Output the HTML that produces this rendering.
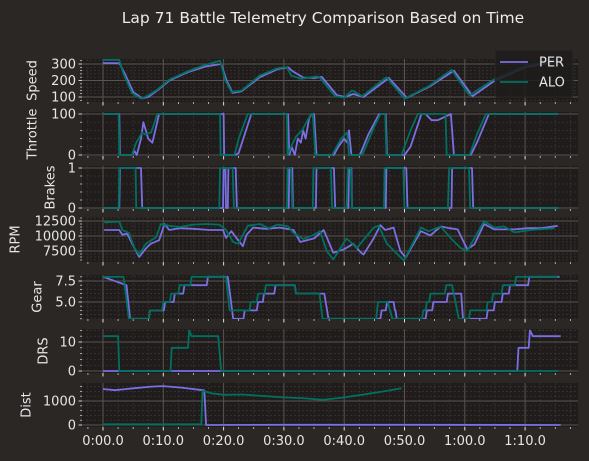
<!DOCTYPE html>
<html><head><meta charset="utf-8"><style>
html,body{margin:0;padding:0;background:#2a2725;}
svg{display:block;font-family:"DejaVu Sans","Liberation Sans",sans-serif;}
</style></head><body>
<svg id="chart" width="589" height="461" viewBox="0 0 589 461"></svg>
<script>
const xTickValues=[0,10,20,30,40,50,60,70];
const xTickLabels=["0:00.0","0:10.0","0:20.0","0:30.0","0:40.0","0:50.0","1:00.0","1:10.0"];
const drivers=["PER","ALO"];
const speedPerT=[0,2.7,3.5,5,6.5,7.5,9,11,14,17,19.6,20.5,21.5,23,26,29,30.7,31.5,33.2,35,36.3,38.8,40.2,41.5,43.2,47.4,50.4,54,58.2,61.3,65,70,76];
const speedPerV=[305,305,250,130,92,100,140,200,250,285,300,200,125,135,220,270,280,255,218,215,222,110,100,118,100,215,95,160,260,105,200,280,320];
const speedAloT=[0,2.7,3.3,4.8,6.3,7.5,9,11,14,17,19.4,20.3,21.3,23,26,29,30.5,31.2,32.8,35.5,36,38.5,40,41.3,43,47,50,54,57.8,60.8,65,70,75];
const speedAloV=[325,325,250,125,90,110,145,205,255,295,320,200,130,140,230,275,282,230,210,225,215,105,95,140,105,220,90,165,265,110,210,290,330];
const thrPerT=[0,2.7,2.8,4.8,5.2,5.6,6.3,6.7,7.5,8.2,9.3,9.6,20,20.1,22,22.5,24.6,30.7,30.9,31.3,31.8,32.3,32.8,33.2,33.6,34.2,34.6,35,35.4,35.6,38.3,39,40,40.5,40.8,41.2,41.6,42.6,44,45.8,46.9,47.1,50,51,52.8,53.5,54.5,55.5,57.7,58.2,61,62,64,75.5];
const thrPerV=[100,100,0,0,10,0,40,80,40,30,100,100,100,0,0,5,100,100,0,20,0,40,30,60,40,90,100,100,0,0,0,20,40,30,60,0,0,0,50,100,100,0,0,20,100,100,85,85,100,0,0,30,100,100];
const thrAloT=[0,2.6,2.7,4.8,5.5,6.5,7,8,9,9.4,19.4,19.5,21.8,22.5,24,30.5,30.6,31.5,32,33,34.5,34.8,35.2,38,39.5,40.5,40.8,41.2,43,45,46,46.8,47,49.5,51,52.2,56.8,57,60.8,62,63.5,75.5];
const thrAloV=[100,100,0,0,30,55,50,55,100,100,100,0,0,40,100,100,0,30,45,60,100,100,0,0,40,55,0,0,0,70,100,100,0,0,60,100,100,0,0,50,100,100];
const brkPerT=[0,2.7,2.8,6.3,6.5,19.9,20,20.3,20.4,20.7,20.8,22,22.2,30.8,30.9,31.4,31.5,35.3,35.4,38.3,38.5,40.7,40.8,41.2,41.3,46.9,47,50.3,50.5,57.8,57.9,61.2,61.4,75.5];
const brkPerV=[0,0,1,1,0,0,1,1,0,0,1,1,0,0,1,1,0,0,1,1,0,0,1,1,0,0,1,1,0,0,1,1,0,0];
const brkAloT=[0,2.6,2.7,5.4,5.5,19.3,19.4,21.5,21.7,30.5,30.6,31.2,31.4,34.8,34.9,37.8,38,40.4,40.6,41.1,41.3,46.6,46.7,49.8,50,57.2,57.4,60.7,60.9,75.5];
const brkAloV=[0,0,1,1,0,0,1,1,0,0,1,1,0,0,1,1,0,0,1,1,0,0,1,1,0,0,1,1,0,0];
const rpmPerT=[0.2,2.7,3.2,4,5.2,6,7.1,7.9,9.3,10.2,11,12.7,15,17.7,19.9,20.4,21.3,22.1,23.2,23.8,24.9,27,29.3,31.6,32.7,35,36.6,38.2,40,41.5,42.7,43.2,44.9,46,46.8,48.2,49.3,50.2,52.7,54.3,56,57.5,58.8,60.4,61.6,63.2,64.9,68.2,70.5,72.7,75.4];
const rpmPerV=[11000,11000,10200,10400,8000,6500,7900,8700,9300,12000,11000,11300,11200,11000,11000,9700,10800,9700,8300,10200,11400,11200,11400,11000,9000,9600,11000,7200,7800,8700,7300,6900,9600,11800,11000,11400,7500,6400,10800,10100,11600,11300,11100,7800,8600,12000,11100,11100,11300,11300,11700];
const rpmAloT=[0.2,2.7,3.2,4.3,5.2,6,7.1,8.8,9.6,11,12.7,15,17.1,19.3,20.4,21.6,22.4,24,26,27.5,29,30.7,31.6,33.2,35,36,37.1,38.2,40.4,42.1,44.9,45.7,47.1,49.9,52.7,54,56,57.7,59.3,60.4,63.2,64.9,66.5,68.2,71,74.9];
const rpmAloV=[12280,12400,11000,10500,8000,6900,8700,9800,12000,11700,11500,11900,12000,11900,11000,9000,8700,11700,12000,11300,11900,11600,10500,9500,10200,10800,7500,6100,9600,8000,11400,11700,8700,5900,11400,10800,11600,9600,8000,7500,12500,11400,11600,10600,11000,11300];
const gearPerT=[0,3.9,4.5,7.6,7.8,10.1,10.3,11.7,11.9,13.3,13.5,17.2,17.4,20.7,21.6,23.3,23.5,25.5,25.7,26.5,26.7,28.4,28.6,31.8,32,36.7,37.4,46,46.2,46.9,47.1,48.2,48.4,48.5,48.7,53.5,53.7,54.6,54.8,57,57.2,59.4,59.7,63.6,63.8,64.8,65,66.1,66.3,67.3,67.5,70.5,70.7,75.7];
const gearPerV=[8,7,3,3,4,4,5,5,6,6,7,7,8,8,3,3,4,4,5,5,6,6,7,7,6,6,3,3,4,4,5,5,4,4,3,3,4,4,5,5,6,6,3,3,4,4,5,5,6,6,7,7,8,8];
const gearAloT=[0,3.4,4.3,7.6,7.8,9.8,10,11.1,11.3,12.5,12.7,14.5,14.7,20.4,21,24.3,24.5,25.5,25.7,26.8,27,31.8,32,35.9,36.4,45.3,45.6,47.2,48,52.9,53.1,53.5,53.7,54.1,54.3,56.7,56.9,57.9,59,60.7,60.9,63.6,63.8,64.5,64.7,66.1,66.3,68.3,68.5,75.4];
const gearAloV=[8,8,3,3,4,4,5,5,6,6,7,7,8,8,4,4,5,5,6,6,7,7,6,6,3,3,5,5,3,3,4,4,5,5,6,6,7,7,3,3,4,4,5,5,6,6,7,7,8,8];
const drsPerT=[0,68.7,68.9,70.6,70.8,71.3,75.9];
const drsPerV=[0,0,8,8,14,12,12];
const drsAloT=[0,2.5,2.7,11.2,11.4,14.1,14.3,14.7,19.1,19.6,75.4];
const drsAloV=[12,12,0,0,8,8,14,12,12,0,0];
const distPerT=[0,2,5,8,10,13,16.5,16.8,17.1,30,50,75.9];
const distPerV=[1500,1450,1530,1600,1620,1560,1450,1440,0,10,10,0];
const distAloT=[0,16.3,16.5,18,20,23,27,30,33,36.5,40,44,47,49.5];
const distAloV=[30,30,1420,1320,1260,1270,1200,1150,1120,1050,1150,1300,1420,1530];

const NS="http://www.w3.org/2000/svg";
const svg=document.getElementById('chart');
const AX_L=82, AX_R=578, X0=103, XS=6.03;
const COL={PER:"#7b6fe6",ALO:"#00705f"};
function xOf(t){return X0+t*XS;}
function mk(tag,attrs,parent){const e=document.createElementNS(NS,tag);for(const k in attrs)e.setAttribute(k,attrs[k]);(parent||svg).appendChild(e);return e;}

const panels=[
 {name:"speed",label:"Speed",lx:33,top:59,h:43,v1:100,y1:97,v2:300,y2:64,ticks:[100,200,300],tl:["100","200","300"],minor:20,series:[[speedPerT,speedPerV],[speedAloT,speedAloV]]},
 {name:"throttle",label:"Throttle",lx:33,top:112,h:44,v1:0,y1:155,v2:100,y2:114,ticks:[0,100],tl:["0","100"],minor:20,series:[[thrPerT,thrPerV],[thrAloT,thrAloV]]},
 {name:"brakes",label:"Brakes",lx:51,top:166,h:43,v1:0,y1:208,v2:1,y2:168,ticks:[0,1],tl:["0","1"],minor:0.2,series:[[brkPerT,brkPerV],[brkAloT,brkAloV]]},
 {name:"rpm",label:"RPM",lx:16,top:217,h:45,v1:7500,y1:251,v2:12500,y2:221,ticks:[7500,10000,12500],tl:["7500","10000","12500"],minor:500,series:[[rpmPerT,rpmPerV],[rpmAloT,rpmAloV]]},
 {name:"gear",label:"Gear",lx:38,top:275,h:44,v1:5,y1:302,v2:7.5,y2:281,ticks:[5,7.5],tl:["5.0","7.5"],minor:0.5,series:[[gearPerT,gearPerV],[gearAloT,gearAloV]]},
 {name:"drs",label:"DRS",lx:44,top:329,h:44,v1:0,y1:371,v2:10,y2:342,ticks:[0,10],tl:["0","10"],minor:2,series:[[drsPerT,drsPerV],[drsAloT,drsAloV]]},
 {name:"dist",label:"Dist",lx:27,top:383,h:44,v1:0,y1:425,v2:1000,y2:401,ticks:[0,1000],tl:["0","1000"],minor:200,series:[[distPerT,distPerV],[distAloT,distAloV]]}
];

const title=mk('text',{x:323,y:23,'text-anchor':'middle','font-size':'15.5',fill:'#ececec'});
title.textContent="Lap 71 Battle Telemetry Comparison Based on Time";



panels.forEach((p,pi)=>{
  const g=mk('g',{});
  
  
  const yOf=v=>p.y1+(v-p.v1)*(p.y2-p.y1)/(p.v2-p.v1);
  const vTop=p.v1+(p.top-p.y1)*(p.v2-p.v1)/(p.y2-p.y1);
  const vBot=p.v1+(p.top+p.h-p.y1)*(p.v2-p.v1)/(p.y2-p.y1);
  const bg=mk('rect',{x:AX_L,y:p.top,width:AX_R-AX_L,height:p.h,fill:'#1f1c1b'},g);
  
  
  // minor grid
  for(let t=-2.5;t<=78;t+=2.5){if(t%10===0)continue;const x=xOf(t);if(x<AX_L||x>AX_R)continue;
    mk('line',{x1:x,x2:x,y1:p.top,y2:p.top+p.h,stroke:'#3c3735','stroke-width':0.7,'stroke-dasharray':'2,2'},g);}
  const lo=Math.min(vTop,vBot),hi=Math.max(vTop,vBot);
  for(let v=Math.ceil(lo/p.minor)*p.minor;v<=hi;v+=p.minor){const y=yOf(v);
    if(p.ticks.some(tk=>Math.abs(tk-v)<1e-6))continue;
    mk('line',{x1:AX_L,x2:AX_R,y1:y,y2:y,stroke:'#3c3735','stroke-width':0.7,'stroke-dasharray':'2,2'},g);
    mk('line',{x1:AX_L-2,x2:AX_L,y1:y,y2:y,stroke:'#d8d8d8','stroke-width':0.7},g);}
  // major grid
  xTickValues.forEach(t=>{const x=xOf(t);mk('line',{x1:x,x2:x,y1:p.top,y2:p.top+p.h,stroke:'#5a5350','stroke-width':1},g);});
  p.ticks.forEach((v,i)=>{const y=yOf(v);
    mk('line',{x1:AX_L,x2:AX_R,y1:y,y2:y,stroke:'#5a5350','stroke-width':1},g);
    mk('line',{x1:AX_L-3.5,x2:AX_L,y1:y,y2:y,stroke:'#e0e0e0','stroke-width':0.9},g);
    const tx=mk('text',{x:AX_L-6,y:y+4.5,'text-anchor':'end','font-size':'13',fill:'#e6e6e6'},g);
    tx.textContent=p.tl[i];
    
    
  });
  // x ticks
  for(let t=-2.5;t<=78;t+=2.5){const x=xOf(t);if(x<AX_L||x>AX_R)continue;
    const maj=(t%10===0);
    mk('line',{x1:x,x2:x,y1:p.top+p.h,y2:p.top+p.h+(maj?3.5:2),stroke:'#e0e0e0','stroke-width':maj?1:0.7},g);}
  // clip
  const cid='clip'+pi;
  const cp=mk('clipPath',{id:cid},g);mk('rect',{x:AX_L,y:p.top,width:AX_R-AX_L,height:p.h},cp);
  p.series.forEach((s,si)=>{
    const T=s[0],V=s[1];const n=Math.min(T.length,V.length);
    let d='';for(let i=0;i<n;i++){d+=(i?'L':'M')+xOf(T[i]).toFixed(1)+','+yOf(V[i]).toFixed(1);}
    const path=mk('path',{d:d,fill:'none',stroke:COL[drivers[si]],'stroke-width':1.8,'stroke-linejoin':'round','clip-path':'url(#'+cid+')'},g);
    
    
  });
  const lb=mk('text',{x:p.lx,y:p.top+p.h/2,'text-anchor':'middle','font-size':'13',fill:'#e6e6e6',transform:'rotate(-90 '+p.lx+' '+(p.top+p.h/2)+')','dominant-baseline':'middle'},g);
  lb.textContent=p.label;
  
  
  if(pi===panels.length-1){
    xTickValues.forEach((t,i)=>{const tx=mk('text',{x:xOf(t),y:p.top+p.h+18,'text-anchor':'middle','font-size':'13',fill:'#e6e6e6'},g);
      tx.textContent=xTickLabels[i];
      
      });
  }
});
// legend
const lg=mk('g',{});


mk('rect',{x:495,y:50,width:78,height:47,rx:2,fill:'#1f1c1b','fill-opacity':0.85,stroke:'#2a2725'},lg);
drivers.forEach((d,i)=>{
  const e=mk('g',{},lg);
  
  
  const y=62+i*20;
  mk('line',{x1:500,x2:528,y1:y,y2:y,stroke:COL[d],'stroke-width':1.8},e);
  const t=mk('text',{x:539,y:y+4.5,'font-size':'13',fill:'#e6e6e6'},e);
  t.textContent=d;
});
</script>
</body></html>
